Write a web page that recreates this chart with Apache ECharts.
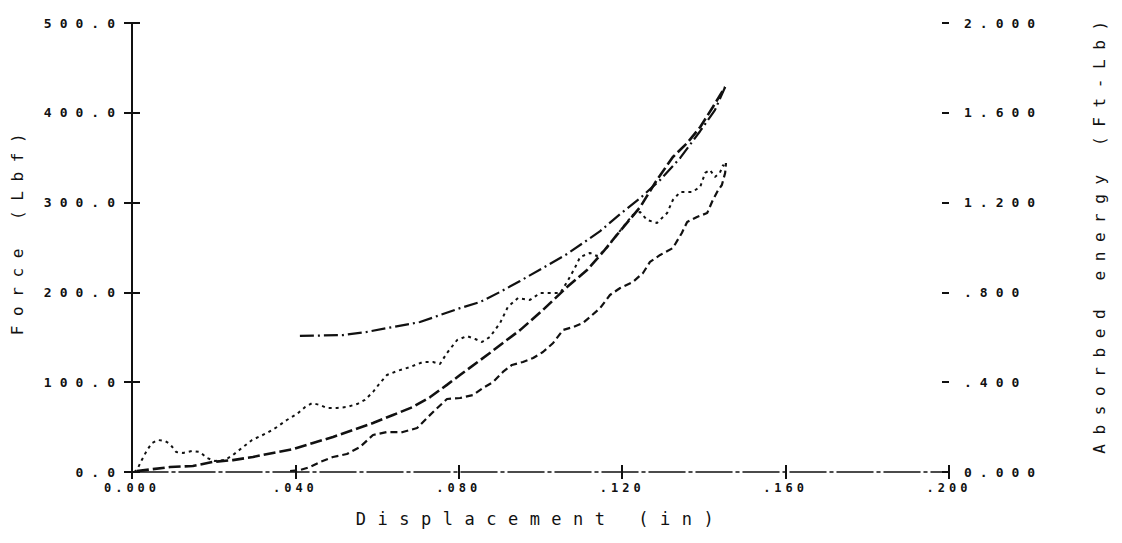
<!DOCTYPE html>
<html>
<head>
<meta charset="utf-8">
<script src="https://cdn.jsdelivr.net/npm/echarts@6/dist/echarts.min.js"></script>
<style>
  html, body { margin: 0; padding: 0; background: #fff; }
  #chart { width: 1122px; height: 543px; }
  #chart text[style*="12px"] { letter-spacing: 4px; }
  #chart text[style*="13px"] { letter-spacing: 8px; }
  #chart text[style*="16px"] { letter-spacing: 9.6px; }
  #chart text[style*="17px"] { letter-spacing: 11.5px; }
</style>
</head>
<body>
<div id="chart"></div>
<script>
// ---- data ----
// x ticks (displacement, in)
const xTickValues = [0, 0.04, 0.08, 0.12, 0.16, 0.2];
const xTickLabels = ['0.000', '.040', '.080', '.120', '.160', '.200'];
// left axis ticks (force, Lbf)
const forceTickValues = [0, 100, 200, 300, 400, 500];
const forceTickLabels = ['0.0', '100.0', '200.0', '300.0', '400.0', '500.0'];
// right axis ticks (absorbed energy, Ft-Lb)
const energyTickValues = [0, 0.4, 0.8, 1.2, 1.6, 2.0];
const energyTickLabels = ['0.000', '.400', '.800', '1.200', '1.600', '2.000'];

// Energy curve A (dash-dot)
const dispA = [0.0411,0.0517,0.0575,0.0624,0.0705,0.0754,0.0803,0.0852,0.0901,0.0950,0.1006,0.1065,0.1104,0.1146,0.1195,0.1244,0.1293,0.1342,0.1391,0.1427,0.1452];
const energyA = [0.606,0.610,0.624,0.641,0.668,0.699,0.730,0.757,0.802,0.851,0.909,0.971,1.020,1.073,1.149,1.220,1.301,1.399,1.519,1.612,1.715];

// Energy curve B (long dash)
const dispB = [0.0012,0.0093,0.0149,0.0198,0.0247,0.0296,0.0345,0.0394,0.0443,0.0492,0.0541,0.0590,0.0639,0.0688,0.0730,0.0771,0.0803,0.0876,0.0908,0.0950,0.1006,0.1065,0.1114,0.1153,0.1187,0.1244,0.1285,0.1324,0.1359,0.1391,0.1422,0.1452];
const energyB = [0.004,0.022,0.027,0.045,0.053,0.067,0.085,0.102,0.129,0.156,0.187,0.218,0.254,0.290,0.334,0.388,0.432,0.530,0.575,0.632,0.722,0.824,0.900,0.980,1.056,1.180,1.301,1.403,1.465,1.537,1.626,1.715];

// Force curve C (dotted, oscillating)
const dispC = [0.0005,0.0012,0.0024,0.0037,0.0049,0.0064,0.0081,0.0093,0.0108,0.0125,0.0147,0.0166,0.0184,0.0203,0.0228,0.0247,0.0272,0.0294,0.0330,0.0355,0.0379,0.0404,0.0424,0.0441,0.0460,0.0477,0.0502,0.0526,0.0551,0.0570,0.0590,0.0607,0.0624,0.0649,0.0681,0.0712,0.0737,0.0754,0.0771,0.0796,0.0820,0.0840,0.0857,0.0876,0.0901,0.0920,0.0945,0.0974,0.0999,0.1048,0.1065,0.1084,0.1097,0.1121,0.1138,0.1158,0.1177,0.1202,0.1226,0.1244,0.1261,0.1285,0.1310,0.1324,0.1342,0.1371,0.1391,0.1403,0.1415,0.1427,0.1439,0.1447,0.1452];
const forceC = [0,2.2,13.4,24.5,32.3,35.6,34.5,31.2,22.3,21.2,23.4,22.3,15.6,12.2,13.4,18.9,27.8,35.6,43.4,50.1,57.9,64.6,72.4,76.8,74.6,71.3,71.3,72.4,75.7,80.2,89.1,99.1,108.0,112.5,116.9,122.5,122.5,120.3,132.5,147.0,151.4,148.1,144.8,150.3,165.9,183.7,193.8,191.5,199.3,199.3,211.6,227.2,239.4,243.9,240.5,247.2,258.4,272.8,286.2,289.5,280.6,277.3,288.4,302.9,311.8,311.8,317.4,333.0,336.3,328.5,333.0,341.9,338.5];

// Force curve D (dashed, oscillating)
const dispD = [0.0387,0.0411,0.0436,0.0460,0.0492,0.0526,0.0558,0.0590,0.0624,0.0663,0.0698,0.0722,0.0742,0.0771,0.0803,0.0835,0.0859,0.0884,0.0908,0.0930,0.0957,0.0982,0.1006,0.1031,0.1055,0.1080,0.1104,0.1121,0.1146,0.1170,0.1195,0.1226,0.1251,0.1268,0.1293,0.1324,0.1346,0.1359,0.1383,0.1408,0.1422,0.1435,0.1444,0.1452,0.1454];
const forceD = [1.1,2.2,5.6,11.1,16.7,20.0,27.8,41.2,44.5,44.5,49.0,60.1,69.0,81.3,82.4,85.7,93.5,100.2,111.4,119.2,122.5,126.9,133.6,143.7,158.1,161.5,165.9,172.6,182.6,197.1,204.9,211.6,221.6,233.9,241.7,249.4,266.2,278.4,284.0,288.4,302.9,314.0,319.6,333.0,344.1];

const zip = (xs, ys) => xs.map((x, i) => [x, ys[i]]);
const lookup = (vals, labels) => v => {
  const i = vals.findIndex(t => Math.abs(t - v) < 1e-9);
  return i >= 0 ? labels[i] : '';
};

const INK = '#111';
const yLabelFont = { fontFamily: 'DejaVu Sans Mono', fontSize: 13, fontWeight: 'bold', color: INK };
const xLabelFont = { fontFamily: 'DejaVu Sans Mono', fontSize: 12, fontWeight: 'bold', color: INK };
const xNameFont = { fontFamily: 'DejaVu Sans Mono', fontSize: 17, color: INK };
const yNameFont = { fontFamily: 'DejaVu Sans Mono', fontSize: 16, color: INK };

const chart = echarts.init(document.getElementById('chart'), null, { renderer: 'svg' });
chart.setOption({
  animation: false,
  backgroundColor: '#fff',
  grid: { left: 132, right: 173, top: 23, bottom: 71 },
  xAxis: [
    {
      type: 'value', min: 0, max: 0.2, interval: 0.04, position: 'bottom',
      name: 'Displacement (in)', nameLocation: 'middle', nameGap: 38,
      nameTextStyle: xNameFont,
      axisLine: { lineStyle: { color: INK, width: 1.5, type: [36, 4, 3, 4] } },
      axisTick: { show: true, length: 7, lineStyle: { color: INK, width: 2 } },
      axisLabel: Object.assign({ margin: 10, formatter: lookup(xTickValues, xTickLabels) }, xLabelFont),
      splitLine: { show: false }
    },
    {
      type: 'value', min: 0, max: 0.2, interval: 0.04, position: 'bottom',
      axisLine: { show: false },
      axisTick: { show: true, inside: true, length: 7, lineStyle: { color: INK, width: 2 } },
      axisLabel: { show: false }, splitLine: { show: false }
    }
  ],
  yAxis: [
    {
      type: 'value', min: 0, max: 500, interval: 100, position: 'left',
      name: 'Force (Lbf)', nameLocation: 'middle', nameGap: 107, nameRotate: 90,
      nameTextStyle: Object.assign({ padding: [0, 0, 0, 36] }, yNameFont),
      axisLine: { show: true, lineStyle: { color: INK, width: 2 } },
      axisTick: { show: true, length: 8, lineStyle: { color: INK, width: 2 } },
      axisLabel: Object.assign({ margin: 9, formatter: lookup(forceTickValues, forceTickLabels) }, yLabelFont),
      splitLine: { show: false }
    },
    {
      type: 'value', min: 0, max: 2, interval: 0.4, position: 'right',
      name: 'Absorbed energy (Ft-Lb)', nameLocation: 'middle', nameGap: 142, nameRotate: 90,
      nameTextStyle: Object.assign({ padding: [0, 0, 0, 30] }, yNameFont),
      axisLine: { show: true, lineStyle: { color: INK, width: 2 } },
      axisTick: { show: true, length: 7, lineStyle: { color: INK, width: 2 } },
      axisLabel: Object.assign({ margin: 15, formatter: lookup(energyTickValues, energyTickLabels) }, yLabelFont),
      splitLine: { show: false }
    },
    {
      type: 'value', min: 0, max: 500, interval: 100, position: 'left',
      axisLine: { show: false },
      axisTick: { show: true, inside: true, length: 8, lineStyle: { color: INK, width: 2 } },
      axisLabel: { show: false }, splitLine: { show: false }
    },
    {
      type: 'value', min: 0, max: 2, interval: 0.4, position: 'right',
      axisLine: { show: false },
      axisTick: { show: true, inside: true, length: 7, lineStyle: { color: INK, width: 2 } },
      axisLabel: { show: false }, splitLine: { show: false }
    }
  ],
  series: [
    {
      name: 'Energy A', type: 'line', yAxisIndex: 1, showSymbol: false, symbol: 'none',
      data: zip(dispA, energyA),
      lineStyle: { color: INK, width: 2.2, type: [14, 4, 2, 4] }
    },
    {
      name: 'Energy B', type: 'line', yAxisIndex: 1, showSymbol: false, symbol: 'none',
      data: zip(dispB, energyB),
      lineStyle: { color: INK, width: 2.6, type: [12, 4] }
    },
    {
      name: 'Force C', type: 'line', yAxisIndex: 0, showSymbol: false, symbol: 'none',
      data: zip(dispC, forceC),
      lineStyle: { color: INK, width: 2, type: [3, 4] }
    },
    {
      name: 'Force D', type: 'line', yAxisIndex: 0, showSymbol: false, symbol: 'none',
      data: zip(dispD, forceD),
      lineStyle: { color: INK, width: 2.2, type: [7, 4] }
    }
  ]
});
</script>
</body>
</html>
